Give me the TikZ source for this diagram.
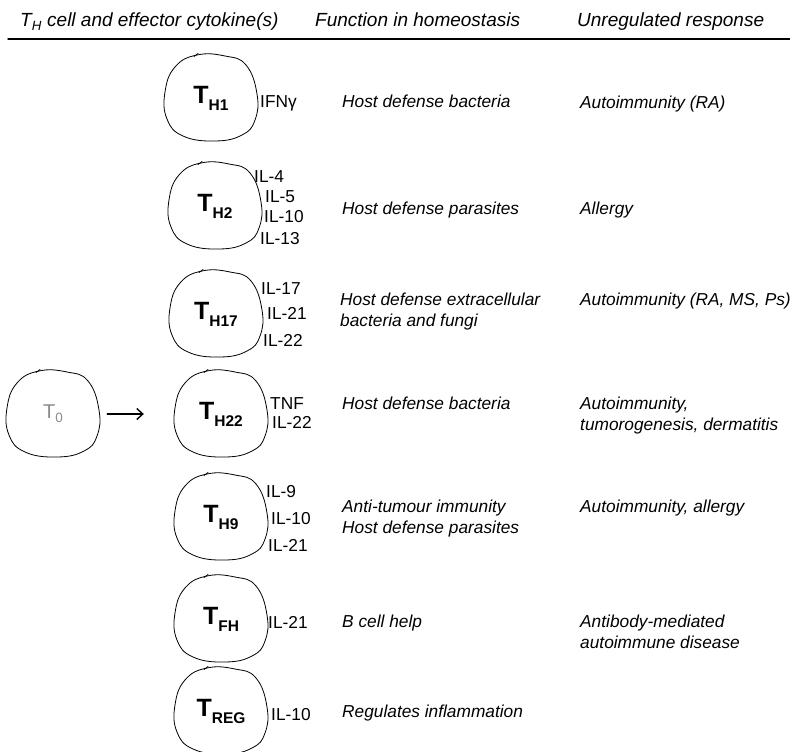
\documentclass[tikz,border=0pt]{standalone}
\usepackage{fontspec}
\setmainfont{Liberation Sans}
\usetikzlibrary{shapes.geometric,arrows.meta}
\newcommand{\tcell}[1]{{\fontsize{25}{25}\selectfont\bfseries T}\raisebox{-7pt}{\fontsize{15.5}{16}\selectfont\bfseries #1}}
\tikzset{
  cellbody/.style={ellipse,minimum width=92pt,minimum height=85pt,inner sep=0pt},
  cellline/.style={line width=0.8pt},
  cyto/.style={anchor=base west,inner sep=0pt,font=\fontsize{17.3}{21}\selectfont},
  func/.style={anchor=base west,align=left,inner sep=0pt,font=\fontsize{17.3}{21.5}\selectfont\itshape},
  head/.style={anchor=base west,inner sep=0pt,font=\fontsize{19}{22}\selectfont\itshape},
}
\begin{document}
\begin{tikzpicture}[x=1pt,y=-1pt,line cap=round,line join=round]
  \useasboundingbox (0,0) rectangle (790,752);
  % header
  \node[head] (hcell) at (20,27) {T\textsubscript{H} cell and effector cytokine(s)};
  \node[head] (hfunc) at (315,27) {Function in homeostasis};
  \node[head] (hresp) at (577,27) {Unregulated response};
  \draw[line width=1.4pt] (8,39) -- (790,39);
  % cells
  \node[cellbody] (th1) at (211,98) {\tcell{H1}};
  \node[cellbody] (th2) at (215,206) {\tcell{H2}};
  \node[cellbody] (th17) at (216,314) {\tcell{H17}};
  \node[cellbody] (th22) at (221,414) {\tcell{H22}};
  \node[cellbody] (th9) at (221,517) {\tcell{H9}};
  \node[cellbody] (tfh) at (221,619) {\tcell{FH}};
  \node[cellbody] (treg) at (221,711) {\tcell{REG}};
  \node[cellbody,text=black!45] (t0) at (53,414) {{\fontsize{20}{20}\selectfont T}\raisebox{-4pt}{\fontsize{13.5}{14}\selectfont 0}};
  % hand drawn outlines
  \foreach \c in {th1,th2,th17,th22,th9,tfh,treg,t0}{
    \draw[cellline,shift={(\c.center)}] plot[smooth cycle,tension=0.75] coordinates
      {(-14,-43) (14,-42) (35,-33) (46,-4) (44,22) (31,37) (4,43) (-28,38) (-44,21) (-46,-6) (-36,-31)};
    \draw[cellline,shift={(\c.center)}] (-17,-41.5) -- (-13,-44.5);
  }
  \draw[line width=1.4pt,-{Straight Barb[length=6pt,width=11pt]}] (t0) -- (th22)
    [shorten <=8pt,shorten >=31pt];
  % cytokines
  \node[cyto] (th1a) at (260,107) {IFNγ};
  \node[cyto] (th2a) at (254,182) {IL-4};
  \node[cyto] (th2b) at (265,202) {IL-5};
  \node[cyto] (th2c) at (264,222) {IL-10};
  \node[cyto] (th2d) at (260,244) {IL-13};
  \node[cyto] (th17a) at (261,294) {IL-17};
  \node[cyto] (th17b) at (267,319) {IL-21};
  \node[cyto] (th17c) at (263,346) {IL-22};
  \node[cyto] (th22a) at (270,409) {TNF};
  \node[cyto] (th22b) at (272,428) {IL-22};
  \node[cyto] (th9a) at (266,497) {IL-9};
  \node[cyto] (th9b) at (271,524) {IL-10};
  \node[cyto] (th9c) at (268,551) {IL-21};
  \node[cyto] (tfha) at (268,628) {IL-21};
  \node[cyto] (trega) at (271,720) {IL-10};
  % function in homeostasis
  \node[func] (f1) at (342,107) {Host defense bacteria};
  \node[func] (f2) at (342,214) {Host defense parasites};
  \node[func] (f17) at (340,326.5) {Host defense extracellular\\bacteria and fungi};
  \node[func] (f22) at (342,409) {Host defense bacteria};
  \node[func] (f9) at (342,533.5) {Anti-tumour immunity\\Host defense parasites};
  \node[func] (ffh) at (342,627) {B cell help};
  \node[func] (freg) at (342,717) {Regulates inflammation};
  % unregulated response
  \node[func] (r1) at (580,108) {Autoimmunity (RA)};
  \node[func] (r2) at (580,214) {Allergy};
  \node[func] (r17) at (580,305) {Autoimmunity (RA, MS, Ps)};
  \node[func] (r22) at (580,430.5) {Autoimmunity,\\tumorogenesis, dermatitis};
  \node[func] (r9) at (580,512) {Autoimmunity, allergy};
  \node[func] (rfh) at (580,648.5) {Antibody-mediated\\autoimmune disease};
\end{tikzpicture}
\end{document}
